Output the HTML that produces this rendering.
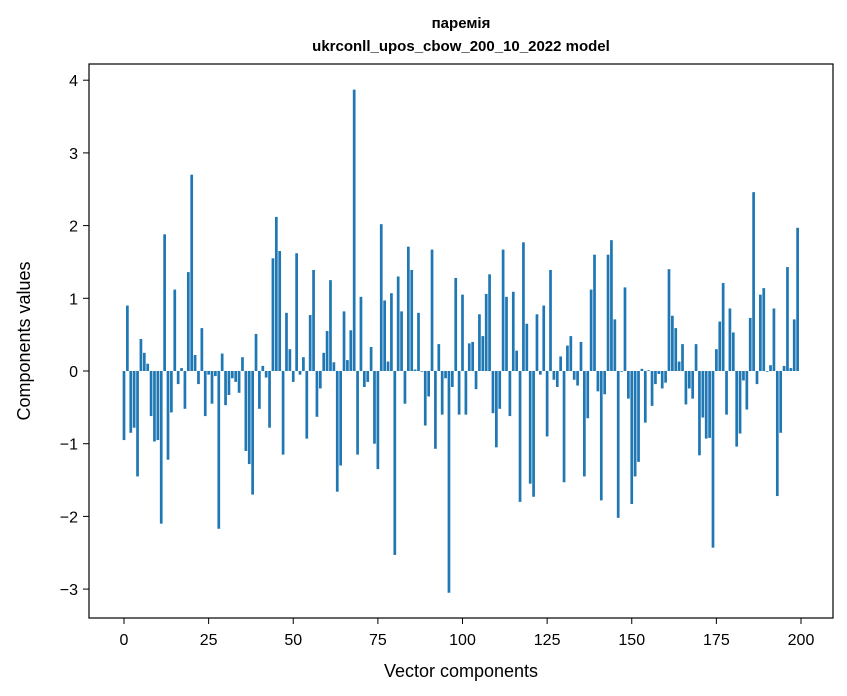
<!DOCTYPE html>
<html><head><meta charset="utf-8"><style>
body{margin:0;background:#fff;}
svg{display:block;font-family:"Liberation Sans","DejaVu Sans",sans-serif;}
</style></head><body>
<svg id="chart" width="847" height="696">
<rect width="847" height="696" fill="#fff"/>
<text x="461" y="28" text-anchor="middle" font-size="15" font-weight="bold">паремія</text>
<text x="461" y="51" text-anchor="middle" font-size="15" font-weight="bold">ukrconll_upos_cbow_200_10_2022 model</text>
<g id="bars"></g>
<g id="xticks"></g>
<g id="yticks"></g>
<rect x="89" y="64" width="744" height="554" fill="none" stroke="#000" stroke-width="1.2"/>
<text x="461" y="677" text-anchor="middle" font-size="18">Vector components</text>
<text x="0" y="0" transform="translate(30,341) rotate(-90)" text-anchor="middle" font-size="18">Components values</text>
</svg>
<script>
const values = [
-0.95,0.9,-0.85,-0.78,-1.45,0.44,0.25,0.1,-0.62,-0.97,
-0.95,-2.1,1.88,-1.22,-0.57,1.12,-0.18,0.04,-0.52,1.36,
2.7,0.22,-0.18,0.59,-0.62,-0.05,-0.45,-0.07,-2.17,0.24,
-0.47,-0.33,-0.1,-0.15,-0.3,0.19,-1.1,-1.28,-1.7,0.51,
-0.52,0.07,-0.09,-0.78,1.55,2.12,1.65,-1.15,0.8,0.3,
-0.15,1.62,-0.05,0.19,-0.93,0.77,1.39,-0.63,-0.24,0.25,
0.55,1.25,0.12,-1.66,-1.3,0.82,0.15,0.56,3.87,-1.15,
1.02,-0.22,-0.15,0.33,-1.0,-1.35,2.02,0.97,0.13,1.07,
-2.53,1.3,0.82,-0.45,1.71,1.39,0.02,0.8,-0.01,-0.75,
-0.35,1.67,-1.07,0.37,-0.6,-0.1,-3.05,-0.22,1.28,-0.6,
1.05,-0.6,0.38,0.4,-0.25,0.78,0.48,1.06,1.33,-0.58,
-1.05,-0.52,1.67,1.02,-0.62,1.09,0.28,-1.8,1.77,0.65,
-1.55,-1.73,0.78,-0.05,0.9,-0.9,1.39,-0.12,-0.22,0.2,
-1.53,0.35,0.48,-0.12,-0.2,0.4,-1.45,-0.65,1.12,1.6,
-0.28,-1.78,-0.32,1.6,1.8,0.71,-2.02,-0.01,1.15,-0.38,
-1.83,-1.45,-1.25,0.03,-0.71,0.01,-0.48,-0.18,-0.04,-0.24,
-0.16,1.4,0.76,0.59,0.13,0.37,-0.46,-0.24,-0.38,0.37,
-1.16,-0.64,-0.93,-0.92,-2.43,0.3,0.68,1.21,-0.6,0.86,
0.53,-1.04,-0.86,-0.13,-0.53,0.73,2.46,-0.18,1.05,1.14,
-0.01,0.08,0.86,-1.72,-0.85,0.07,1.43,0.04,0.71,1.97
];
const xTickLabels = [0,25,50,75,100,125,150,175,200];
const yTickLabels = [-3,-2,-1,0,1,2,3,4];

const NS="http://www.w3.org/2000/svg";
function xs(i){return 124 + i*(677/200);}
function ys(v){return 371 - v*72.7;}
const bw = 0.8*677/200;
const gb=document.getElementById('bars');
values.forEach((v,i)=>{
  const r=document.createElementNS(NS,'rect');
  const y0=ys(0), y1=ys(v);
  r.setAttribute('x', xs(i)-bw/2);
  r.setAttribute('y', Math.min(y0,y1));
  r.setAttribute('width', bw);
  r.setAttribute('height', Math.max(Math.abs(y1-y0),0.3));
  r.setAttribute('fill','#1f77b4');
  
  
  gb.appendChild(r);
});
const gx=document.getElementById('xticks');
xTickLabels.forEach(t=>{
  const x=xs(t);
  const l=document.createElementNS(NS,'line');
  l.setAttribute('x1',x);l.setAttribute('x2',x);l.setAttribute('y1',618);l.setAttribute('y2',624);
  l.setAttribute('stroke','#000');
  
  
  gx.appendChild(l);
  const tx=document.createElementNS(NS,'text');
  tx.setAttribute('x',x);tx.setAttribute('y',645);tx.setAttribute('text-anchor','middle');tx.setAttribute('font-size','16');
  tx.textContent=t;
  
  
  gx.appendChild(tx);
});
const gy=document.getElementById('yticks');
yTickLabels.forEach(t=>{
  const y=ys(t);
  const l=document.createElementNS(NS,'line');
  l.setAttribute('x1',83);l.setAttribute('x2',89);l.setAttribute('y1',y);l.setAttribute('y2',y);
  l.setAttribute('stroke','#000');
  
  
  gy.appendChild(l);
  const tx=document.createElementNS(NS,'text');
  tx.setAttribute('x',78);tx.setAttribute('y',y+6);tx.setAttribute('text-anchor','end');tx.setAttribute('font-size','16');
  tx.textContent=(t<0?'\u2212'+(-t):String(t));
  
  
  gy.appendChild(tx);
});
</script>
</body></html>
